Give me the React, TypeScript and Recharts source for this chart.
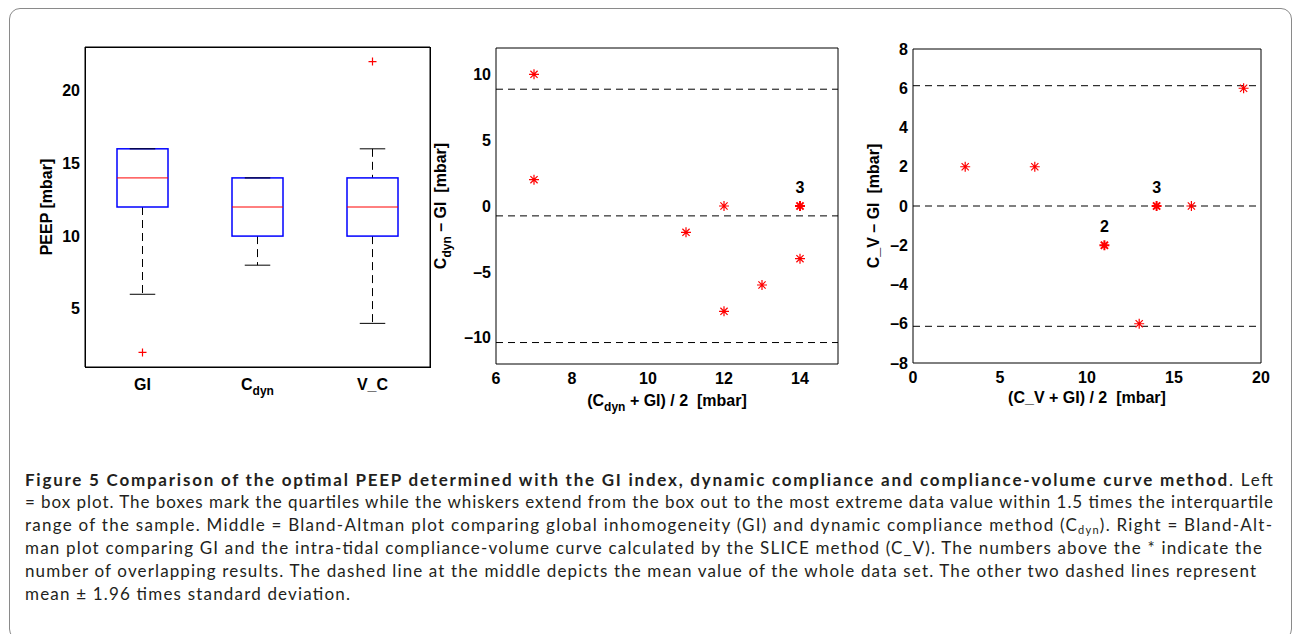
import React from "react";
import {
  ComposedChart,
  ScatterChart,
  Bar,
  Scatter,
  XAxis,
  YAxis,
  ReferenceLine,
} from "recharts";

// box plot (left)
const methods = ["GI", "C_dyn", "V_C"];
const methodPos = [1, 2, 3];
const whiskerLow = [6, 8, 4];
const quartile1 = [12, 10, 10];
const medians = [14, 12, 12];
const quartile3 = [16, 14, 14];
const whiskerHigh = [16, 14, 16];
const outliers = [2, null, 22];
const peepTicks = [5, 10, 15, 20];
const boxXDomain = [0.5, 3.5];
const boxYDomain = [1, 23];

// Bland-Altman C_dyn vs GI (middle)
const dynMean = [7, 7, 11, 12, 12, 13, 14, 14];
const dynDiff = [10, 2, -2, 0, -8, -6, 0, -4];
const dynCount = [1, 1, 1, 1, 1, 1, 3, 1];
const dynLimits = [8.87, -0.75, -10.37];
const dynXTicks = [6, 8, 10, 12, 14];
const dynYTicks = [-10, -5, 0, 5, 10];

// Bland-Altman C_V vs GI (right)
const cvMean = [3, 7, 11, 13, 14, 16, 19];
const cvDiff = [2, 2, -2, -6, 0, 0, 6];
const cvCount = [1, 1, 2, 1, 3, 1, 1];
const cvLimits = [6.13, 0, -6.13];
const cvXTicks = [0, 5, 10, 15, 20];
const cvYTicks = [-8, -6, -4, -2, 0, 2, 4, 6, 8];

const boxData = methods.map((name, i) => ({
  name,
  pos: methodPos[i],
  range: [whiskerLow[i], whiskerHigh[i]],
  lo: whiskerLow[i],
  q1: quartile1[i],
  med: medians[i],
  q3: quartile3[i],
  hi: whiskerHigh[i],
}));
const outlierPoints = methodPos
  .map((pos, i) => ({ pos, value: outliers[i] }))
  .filter((d) => d.value != null);

const dynPoints = dynMean.map((x, i) => ({ x, y: dynDiff[i], n: dynCount[i] }));
const cvPoints = cvMean.map((x, i) => ({ x, y: cvDiff[i], n: cvCount[i] }));

const FONT = "'Liberation Sans', Arial, Helvetica, sans-serif";
const tickStyle = { fontSize: 16, fontWeight: 700, fill: "#000", fontFamily: FONT };
const minus = (v: number) => (v < 0 ? `\u2013${-v}` : `${v}`);
const frame = { stroke: "#000", strokeWidth: 1 };
const boxMargin = { top: 47, right: 10, bottom: 23, left: 35 };

// whole box-and-whisker glyph, positioned from the bar's whisker range
const BoxShape = (p: any) => {
  const { x, width, payload } = p;
  const top = Math.min(p.y, p.y + p.height);
  const bottom = Math.max(p.y, p.y + p.height);
  const { lo, hi, q1, med, q3 } = payload;
  const py = (v: number) => top + ((bottom - top) * (hi - v)) / (hi - lo);
  const cx = x + width / 2;
  const cap = width / 4;
  return (
    <g>
      <line x1={cx} x2={cx} y1={py(q1)} y2={py(lo)} stroke="#000" strokeDasharray="8 5" />
      {q3 < hi && (
        <line x1={cx} x2={cx} y1={py(hi)} y2={py(q3)} stroke="#000" strokeDasharray="8 5" />
      )}
      <rect x={x} y={py(q3)} width={width} height={py(q1) - py(q3)} fill="none"
        stroke="#0000ff" strokeWidth={1.5} />
      <line x1={x} x2={x + width} y1={py(med)} y2={py(med)} stroke="#ff0000" />
      <line x1={cx - cap} x2={cx + cap} y1={py(lo)} y2={py(lo)} stroke="#000" />
      <line x1={cx - cap} x2={cx + cap} y1={py(hi)} y2={py(hi)} stroke="#000" />
    </g>
  );
};

const PlusMark = (p: any) => {
  const { cx, cy } = p;
  return (
    <path d={`M${cx - 4},${cy}H${cx + 4}M${cx},${cy - 4}V${cy + 4}`} stroke="#ff0000" strokeWidth={1.2} />
  );
};

const MethodTick = ({ x, y, payload }: any) => {
  const label = methods[methodPos.indexOf(payload.value)];
  return (
    <text x={x} y={y + 21} textAnchor="middle" {...tickStyle}>
      {label === "C_dyn" ? (
        <>
          <tspan>C</tspan>
          <tspan fontSize={12} dy={5}>dyn</tspan>
        </>
      ) : (
        label
      )}
    </text>
  );
};

const Asterisk = (p: any) => {
  const { cx, cy, payload } = p;
  const r = 5;
  const d = r * 0.72;
  const heavy = payload.n > 1;
  return (
    <g>
      <path
        d={`M${cx - r},${cy}H${cx + r}M${cx},${cy - r}V${cy + r}M${cx - d},${cy - d}L${cx + d},${cy + d}M${cx - d},${cy + d}L${cx + d},${cy - d}`}
        stroke="#ff0000"
        strokeWidth={heavy ? 2 : 1.2}
      />
      {heavy && (
        <text x={cx} y={cy - 13} textAnchor="middle" {...tickStyle}>
          {payload.n}
        </text>
      )}
    </g>
  );
};

const Title = ({ x, y, rotate, children }: any) => (
  <div
    style={{
      position: "absolute",
      left: x,
      top: y,
      transform: `translate(-50%, -50%)${rotate ? " rotate(-90deg)" : ""}`,
      whiteSpace: "pre",
      fontFamily: FONT,
      fontWeight: 700,
      fontSize: 16,
      color: "#000",
      lineHeight: "20px",
    }}
  >
    {children}
  </div>
);

const Sub = ({ children }: any) => (
  <span style={{ fontSize: 12, position: "relative", top: 5 }}>{children}</span>
);

// MATLAB-style box: inward ticks on all four sides
const frameAxes = (xDomain: number[], xTicks: number[], yDomain: number[], yTicks: number[]) => [
  <XAxis key="t" xAxisId="top" orientation="top" mirror type="number" domain={xDomain} ticks={xTicks}
    tick={false} tickSize={4} axisLine={frame} tickLine={frame} allowDataOverflow />,
  <XAxis key="bt" xAxisId="bt" orientation="bottom" mirror type="number" domain={xDomain} ticks={xTicks}
    tick={false} tickSize={4} axisLine={false} tickLine={frame} allowDataOverflow />,
  <YAxis key="lt" yAxisId="lt" orientation="left" mirror type="number" domain={yDomain} ticks={yTicks}
    tick={false} tickSize={4} axisLine={false} tickLine={frame} allowDataOverflow />,
  <YAxis key="rt" yAxisId="rt" orientation="right" mirror type="number" domain={yDomain} ticks={yTicks}
    tick={false} tickSize={4} axisLine={frame} tickLine={frame} allowDataOverflow />,
];

const BlandAltman = ({ points, limits, xDomain, xTicks, yDomain, yTicks, width, margin }: any) => (
  <ScatterChart width={width} height={420} margin={margin}>
    <XAxis dataKey="x" type="number" domain={xDomain} ticks={xTicks} tick={tickStyle}
      tickLine={false} tickSize={0} tickMargin={9} axisLine={frame} allowDataOverflow height={30} />
    <YAxis dataKey="y" type="number" domain={yDomain} ticks={yTicks} tick={tickStyle}
      tickFormatter={minus} tickLine={false} tickSize={0} tickMargin={5} axisLine={frame}
      allowDataOverflow width={45} />
    {frameAxes(xDomain, xTicks, yDomain, yTicks)}
    {limits.map((v: number) => (
      <ReferenceLine key={v} y={v} stroke="#000" strokeDasharray="7 5" />
    ))}
    <Scatter data={points} shape={Asterisk} isAnimationActive={false} />
  </ScatterChart>
);

const captionEnds = [1273, 1273, 1272, 1262, 1256, 350];
const CAP_X = 25;

export default function App() {
  const capFont = "Lato, 'Open Sans', sans-serif";
  const len = (i: number) => captionEnds[i] - CAP_X;
  return (
    <div
      style={{
        position: "absolute",
        left: 0,
        top: 0,
        width: 1292,
        height: 634,
        overflow: "hidden",
        background: "#fff",
      }}
    >
      <div
        style={{
          position: "absolute",
          left: 9,
          top: 8,
          width: 1281,
          height: 630,
          border: "1px solid #8a8a8a",
          borderRadius: 11,
        }}
      />

      {/* left: box plot - boxes layer */}
      <div style={{ position: "absolute", left: 0, top: 0 }}>
        <ComposedChart width={440} height={420} data={boxData} margin={boxMargin}>
          <XAxis dataKey="pos" type="number" domain={boxXDomain} ticks={methodPos} tick={false}
            tickLine={false} axisLine={false} allowDataOverflow height={30} />
          <YAxis type="number" domain={boxYDomain} ticks={peepTicks} tick={false}
            tickLine={false} axisLine={false} allowDataOverflow width={50} />
          <Bar dataKey="range" barSize={51} shape={BoxShape} isAnimationActive={false} />
        </ComposedChart>
      </div>
      {/* left: box plot - axes and outliers layer */}
      <div style={{ position: "absolute", left: 0, top: 0 }}>
        <ScatterChart width={440} height={420} margin={boxMargin}>
          <XAxis dataKey="pos" type="number" domain={boxXDomain} ticks={methodPos} tick={<MethodTick />}
            tickLine={false} tickSize={0} axisLine={frame} allowDataOverflow height={30} />
          <YAxis dataKey="value" type="number" domain={boxYDomain} ticks={peepTicks} tick={tickStyle}
            tickLine={false} tickSize={0} tickMargin={5} axisLine={frame} allowDataOverflow width={50} />
          {frameAxes(boxXDomain, methodPos, boxYDomain, peepTicks)}
          <Scatter data={outlierPoints} shape={PlusMark} isAnimationActive={false} />
        </ScatterChart>
      </div>
      <Title x={47} y={207} rotate>PEEP [mbar]</Title>

      {/* middle: C_dyn vs GI */}
      <div style={{ position: "absolute", left: 420, top: 0 }}>
        <BlandAltman points={dynPoints} limits={dynLimits} xDomain={[6, 15]} xTicks={dynXTicks}
          yDomain={[-12, 12]} yTicks={dynYTicks} width={430}
          margin={{ top: 48, right: 12, bottom: 26, left: 31 }} />
      </div>
      <Title x={441} y={206} rotate>
        C<Sub>dyn</Sub> {"\u2013"} GI  [mbar]
      </Title>
      <Title x={667} y={401}>
        (C<Sub>dyn</Sub> + GI) / 2  [mbar]
      </Title>

      {/* right: C_V vs GI */}
      <div style={{ position: "absolute", left: 850, top: 0 }}>
        <BlandAltman points={cvPoints} limits={cvLimits} xDomain={[0, 20]} xTicks={cvXTicks}
          yDomain={[-8, 8]} yTicks={cvYTicks} width={442}
          margin={{ top: 49, right: 31, bottom: 27, left: 18 }} />
      </div>
      <Title x={874} y={206} rotate>C_V {"\u2013"} GI  [mbar]</Title>
      <Title x={1087} y={398}>(C_V + GI) / 2  [mbar]</Title>

      {/* caption */}
      <svg width={1292} height={634} style={{ position: "absolute", left: 0, top: 0 }}>
        <g fontFamily={capFont} fontSize={17} fill="#231f20">
          <text x={CAP_X} y={485.5} textLength={len(0)} lengthAdjust="spacing">
            <tspan fontWeight={700}>
              Figure 5 Comparison of the optimal PEEP determined with the GI index, dynamic compliance and compliance-volume curve method
            </tspan>
            <tspan>. Left</tspan>
          </text>
          <text x={CAP_X} y={508.4} textLength={len(1)} lengthAdjust="spacing">
            = box plot. The boxes mark the quartiles while the whiskers extend from the box out to the most extreme data value within 1.5 times the interquartile
          </text>
          <text x={CAP_X} y={531.3} textLength={len(2)} lengthAdjust="spacing">
            <tspan>range of the sample. Middle = Bland-Altman plot comparing global inhomogeneity (GI) and dynamic compliance method (C</tspan>
            <tspan fontSize={11} dy={3}>dyn</tspan>
            <tspan dy={-3}>). Right = Bland-Alt-</tspan>
          </text>
          <text x={CAP_X} y={554.2} textLength={len(3)} lengthAdjust="spacing">
            man plot comparing GI and the intra-tidal compliance-volume curve calculated by the SLICE method (C_V). The numbers above the * indicate the
          </text>
          <text x={CAP_X} y={577.1} textLength={len(4)} lengthAdjust="spacing">
            number of overlapping results. The dashed line at the middle depicts the mean value of the whole data set. The other two dashed lines represent
          </text>
          <text x={CAP_X} y={600} textLength={len(5)} lengthAdjust="spacing">
            mean ± 1.96 times standard deviation.
          </text>
        </g>
      </svg>

      {/* plot-area border of the box plot, kept on top */}
      <div
        style={{
          position: "absolute",
          left: 85,
          top: 47,
          width: 346,
          height: 321,
          boxSizing: "border-box",
          border: "1px solid #000",
          zIndex: 5,
        }}
      />
    </div>
  );
}
